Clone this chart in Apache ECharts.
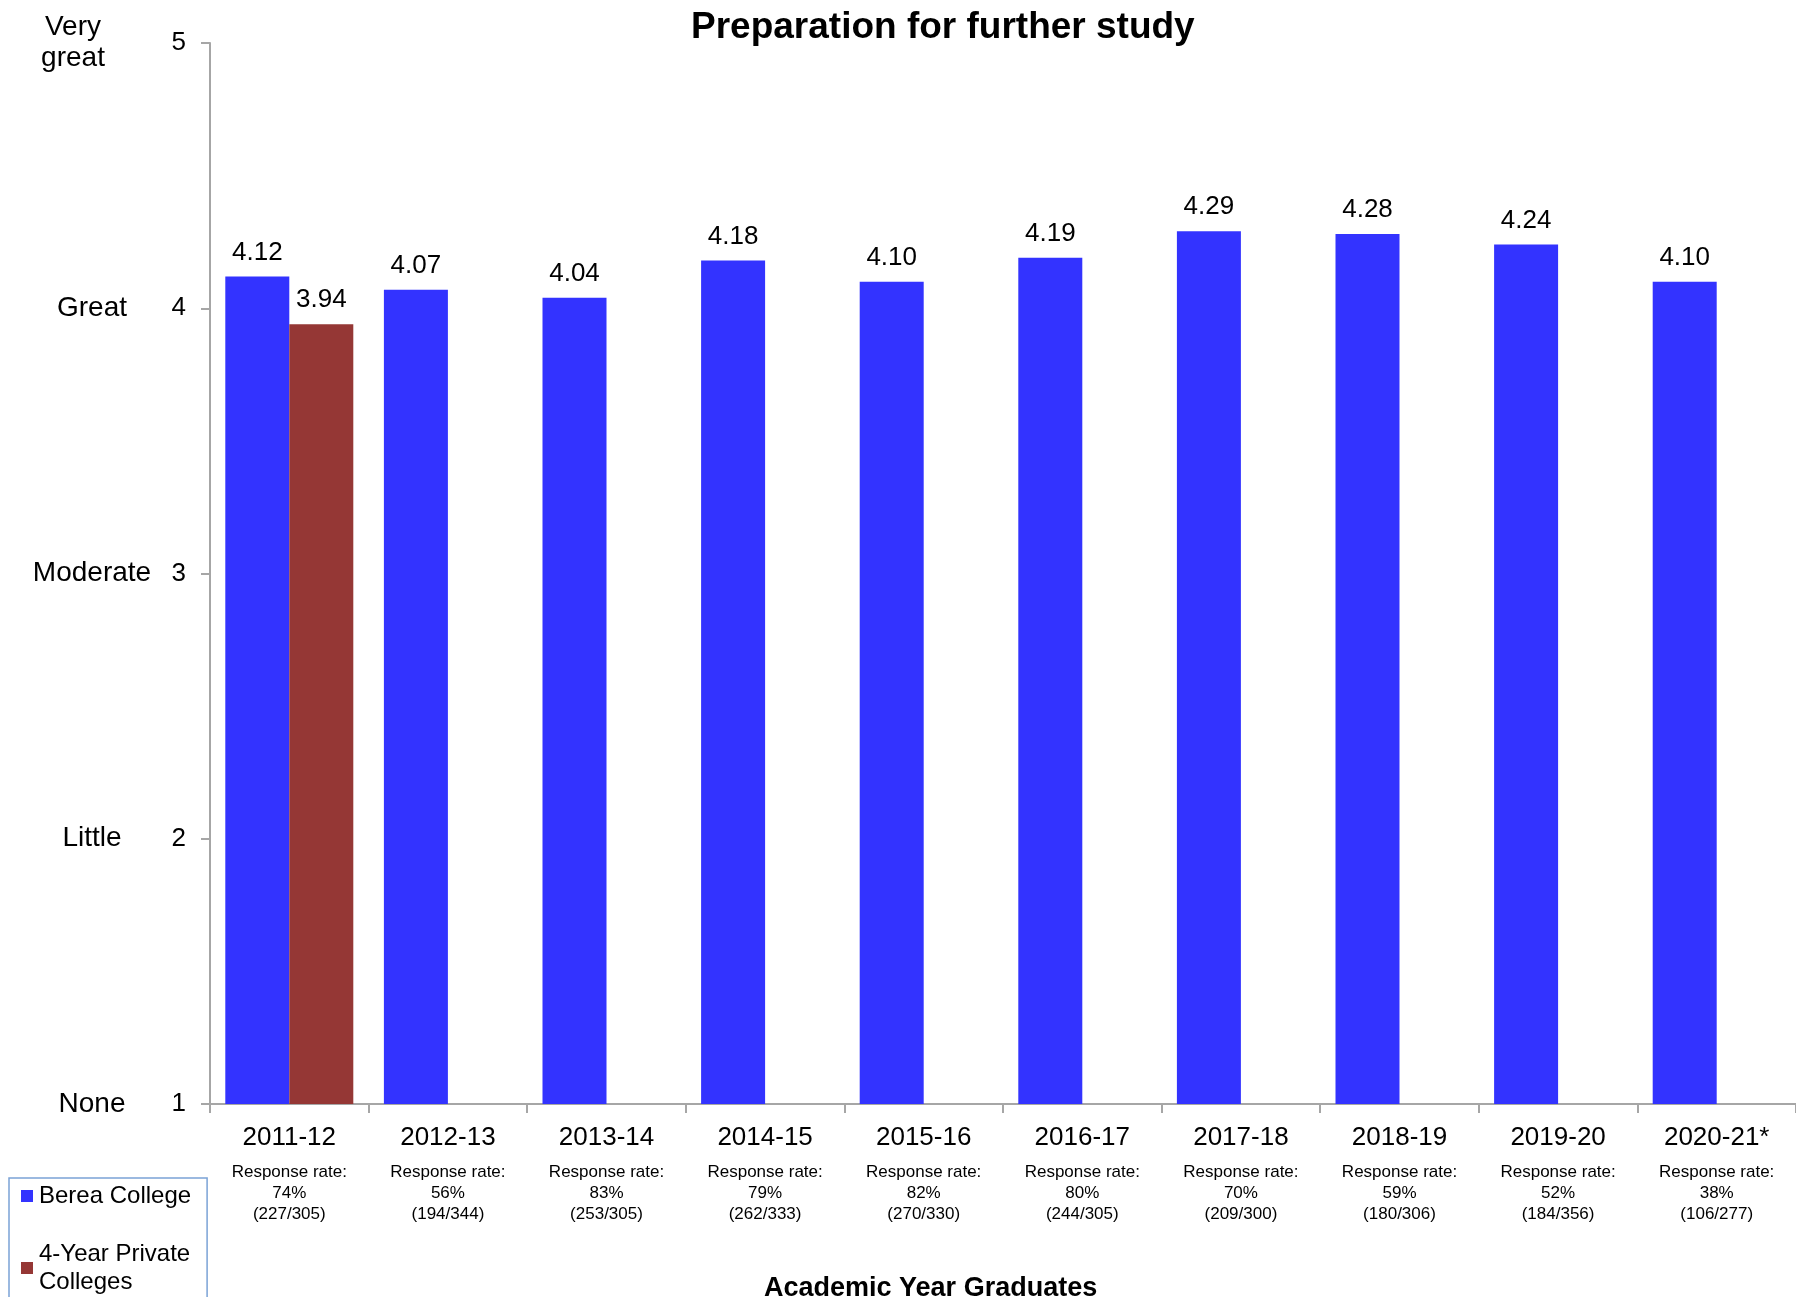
<!DOCTYPE html>
<html>
<head>
<meta charset="utf-8">
<script src="https://cdn.jsdelivr.net/npm/echarts@6/dist/echarts.min.js"></script>
<style>
html,body{margin:0;padding:0;background:#fff;}
#chart{width:1796px;height:1297px;}
</style>
</head>
<body>
<div id="chart"></div>
<script>
const years = ['2011-12','2012-13','2013-14','2014-15','2015-16','2016-17','2017-18','2018-19','2019-20','2020-21*'];
const responseRates = ['74%','56%','83%','79%','82%','80%','70%','59%','52%','38%'];
const responseCounts = ['(227/305)','(194/344)','(253/305)','(262/333)','(270/330)','(244/305)','(209/300)','(180/306)','(184/356)','(106/277)'];
const bereaValues = [4.12, 4.07, 4.04, 4.18, 4.10, 4.19, 4.29, 4.28, 4.24, 4.10];
const privateValues = [3.94, null, null, null, null, null, null, null, null, null];
const yTickValues = [1, 2, 3, 4, 5];
const yWordLabels = {1: 'None', 2: 'Little', 3: 'Moderate', 4: 'Great', 5: 'Very\ngreat'};

const FONT = "'Liberation Sans', Arial, sans-serif";
const chart = echarts.init(document.getElementById('chart'), null, {renderer: 'canvas'});

const labelStyle = {
  show: true, position: 'top', distance: 11,
  fontFamily: FONT, fontSize: 26, color: '#000',
  formatter: p => (p.value == null ? '' : Number(p.value).toFixed(2))
};

chart.setOption({
  animation: false,
  backgroundColor: '#fff',
  textStyle: {fontFamily: FONT},
  title: [
    {text: 'Preparation for further study', left: 686, top: 4,
     textStyle: {fontFamily: FONT, fontSize: 37, fontWeight: 'bold', color: '#000'}},
    {text: 'Academic Year Graduates', left: 764, top: 1275, padding: 0,
     textStyle: {fontFamily: FONT, fontSize: 27, fontWeight: 'bold', color: '#000'}}
  ],
  legend: {
    orient: 'vertical', left: 9, top: 1178, height: 300,
    padding: [4, 16, 40, 12],
    borderColor: '#7BA3D6', borderWidth: 1.5,
    itemWidth: 12, itemHeight: 12, itemGap: 30,
    icon: 'rect',
    textStyle: {fontFamily: FONT, fontSize: 24, color: '#000', lineHeight: 28, padding: [0,0,0,1]},
    data: ['Berea College', '4-Year Private\nColleges']
  },
  grid: {left: 210, right: 0, top: 43, bottom: 193, containLabel: false},
  xAxis: {
    type: 'category', data: years,
    axisLine: {lineStyle: {color: '#A6A6A6', width: 2}},
    axisTick: {show: true, length: 9, lineStyle: {color: '#A6A6A6', width: 2}},
    axisLabel: {
      interval: 0, margin: 10, color: '#000',
      formatter: (v, i) => '{y|' + v + '}\n{r|Response rate:\n' + responseRates[i] + '\n' + responseCounts[i] + '}',
      rich: {
        y: {fontFamily: FONT, fontSize: 26, lineHeight: 48, color: '#000'},
        r: {fontFamily: FONT, fontSize: 17, lineHeight: 21, color: '#000'}
      }
    }
  },
  yAxis: [
    {
      type: 'value', min: 1, max: 5, interval: 1,
      axisLine: {show: true, lineStyle: {color: '#A6A6A6', width: 2}},
      axisTick: {show: true, length: 9, lineStyle: {color: '#A6A6A6', width: 2}},
      splitLine: {show: false},
      axisLabel: {margin: 24, fontFamily: FONT, fontSize: 26, color: '#000',
        formatter: v => (yTickValues.indexOf(v) >= 0 ? String(v) : '')}
    },
    {
      type: 'value', min: 1, max: 5, interval: 1, position: 'left',
      axisLine: {show: false}, axisTick: {show: false}, splitLine: {show: false},
      axisLabel: {
        margin: 118, align: 'center', color: '#000',
        formatter: v => (v === 5 ? '{v|' + yWordLabels[v] + '}' : '{w|' + (yWordLabels[v] || '') + '}'),
        rich: {
          w: {fontFamily: FONT, fontSize: 28, color: '#000'},
          v: {fontFamily: FONT, fontSize: 28, lineHeight: 31, color: '#000', padding: [0, 38, 0, 0]}
        }
      }
    }
  ],
  series: [
    {name: 'Berea College', type: 'bar', data: bereaValues, barWidth: 64, barGap: '0%',
     itemStyle: {color: '#3333FF'}, label: labelStyle},
    {name: '4-Year Private\nColleges', type: 'bar', data: privateValues, barWidth: 64, barGap: '0%',
     itemStyle: {color: '#953735'}, label: labelStyle}
  ]
});
</script>
</body>
</html>
